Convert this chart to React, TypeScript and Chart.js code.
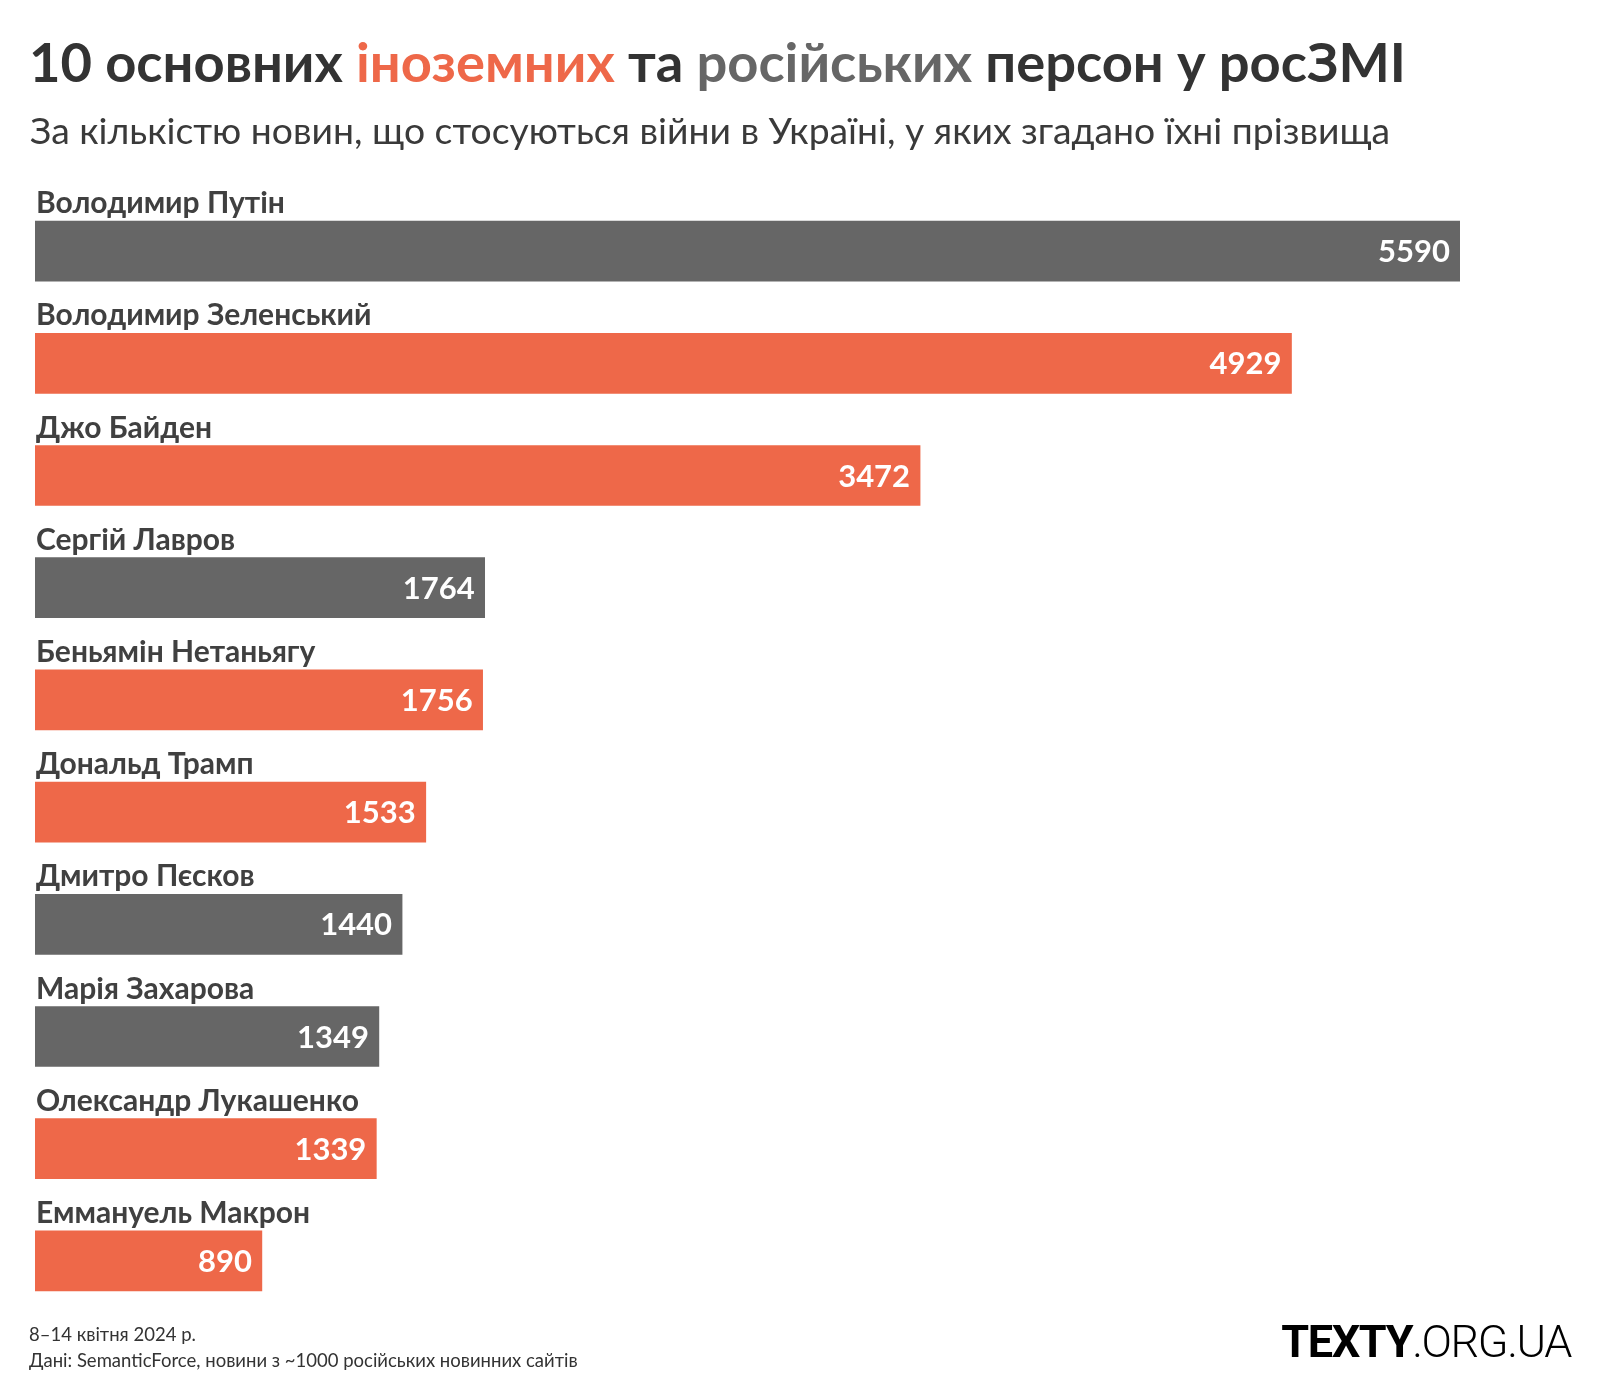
import React, { useEffect, useRef } from "react";
import { Chart, registerables } from "chart.js";

Chart.register(...registerables);

const names = [
  "Володимир Путін",
  "Володимир Зеленський",
  "Джо Байден",
  "Сергій Лавров",
  "Беньямін Нетаньягу",
  "Дональд Трамп",
  "Дмитро Пєсков",
  "Марія Захарова",
  "Олександр Лукашенко",
  "Еммануель Макрон",
];
const mentions = [5590, 4929, 3472, 1764, 1756, 1533, 1440, 1349, 1339, 890];
const groups = ["ru", "foreign", "foreign", "ru", "foreign", "foreign", "ru", "ru", "foreign", "foreign"];

const ORANGE = "#EE6849";
const GRAY = "#666666";
const FONT = "Lato, 'Noto Sans', sans-serif";

const labelPlugin = {
  id: "barLabels",
  afterDatasetsDraw(chart: any) {
    const ctx = chart.ctx;
    const meta = chart.getDatasetMeta(0);
    ctx.save();
    meta.data.forEach((bar: any, i: number) => {
      const top = bar.y - bar.height / 2;
      ctx.font = `700 30px ${FONT}`;
      ctx.fillStyle = "#404040";
      ctx.textAlign = "left";
      ctx.textBaseline = "alphabetic";
      ctx.fillText(names[i], chart.chartArea.left + 1, top - 8);
      ctx.font = `700 31px ${FONT}`;
      ctx.fillStyle = "#ffffff";
      ctx.textAlign = "right";
      ctx.fillText(String(mentions[i]), bar.x - 10, bar.y + 11);
    });
    ctx.restore();
  },
};

export default function App() {
  const ref = useRef<HTMLCanvasElement>(null);
  useEffect(() => {
    if (!ref.current) return;
    let alive = true;
    const chart = new Chart(ref.current, {
      type: "bar",
      data: {
        labels: names,
        datasets: [
          {
            data: mentions,
            backgroundColor: groups.map((g) => (g === "ru" ? GRAY : ORANGE)),
            barThickness: 60,
            borderWidth: 0,
          },
        ],
      },
      options: {
        indexAxis: "y",
        responsive: false,
        animation: false,
        devicePixelRatio: 1,
        layout: { padding: { left: 35, right: 140, top: 195, bottom: 83 } },
        plugins: { legend: { display: false }, tooltip: { enabled: false }, title: { display: false } },
        scales: {
          x: { display: false, min: 0, max: Math.max(...mentions) },
          y: { display: false },
        },
      },
      plugins: [labelPlugin],
    });
    Promise.all([
      document.fonts.load(`700 30px Lato`),
      document.fonts.load(`700 31px Lato`),
    ]).then(() => {
      if (alive) chart.update();
    });
    return () => {
      alive = false;
      chart.destroy();
    };
  }, []);

  return (
    <div style={{ position: "absolute", left: 0, top: 0, width: 1600, height: 1400, background: "#fff", overflow: "hidden" }}>
      <canvas ref={ref} width={1600} height={1400} style={{ position: "absolute", left: 0, top: 0 }} />
      <div
        style={{
          position: "absolute",
          left: 29,
          top: 28,
          fontFamily: FONT,
          fontWeight: 700,
          fontSize: 54.3,
          lineHeight: "66px",
          color: "#333333",
          whiteSpace: "nowrap",
        }}
      >
        10 основних <span style={{ color: ORANGE }}>іноземних</span> та{" "}
        <span style={{ color: GRAY }}>російських</span> персон у росЗМІ
      </div>
      <div
        style={{
          position: "absolute",
          left: 30,
          top: 108,
          fontFamily: FONT,
          fontWeight: 400,
          fontSize: 37.3,
          lineHeight: "44px",
          color: "#3a3a3a",
          whiteSpace: "nowrap",
        }}
      >
        За кількістю новин, що стосуються війни в Україні, у яких згадано їхні прізвища
      </div>
      <div
        style={{
          position: "absolute",
          left: 29,
          top: 1321,
          fontFamily: FONT,
          fontSize: 18.5,
          lineHeight: "26px",
          color: "#333333",
          whiteSpace: "nowrap",
        }}
      >
        <div>8–14 квітня 2024 р.</div>
        <div>Дані: SemanticForce, новини з ~1000 російських новинних сайтів</div>
      </div>
      <div
        style={{
          position: "absolute",
          right: 29,
          top: 1316,
          fontFamily: "Roboto, sans-serif",
          fontSize: 45,
          lineHeight: "52px",
          letterSpacing: -1.4,
          color: "#000",
          whiteSpace: "nowrap",
        }}
      >
        <span style={{ fontWeight: 700 }}>TEXTY</span>
        <span style={{ fontWeight: 300 }}>.ORG.UA</span>
      </div>
    </div>
  );
}
